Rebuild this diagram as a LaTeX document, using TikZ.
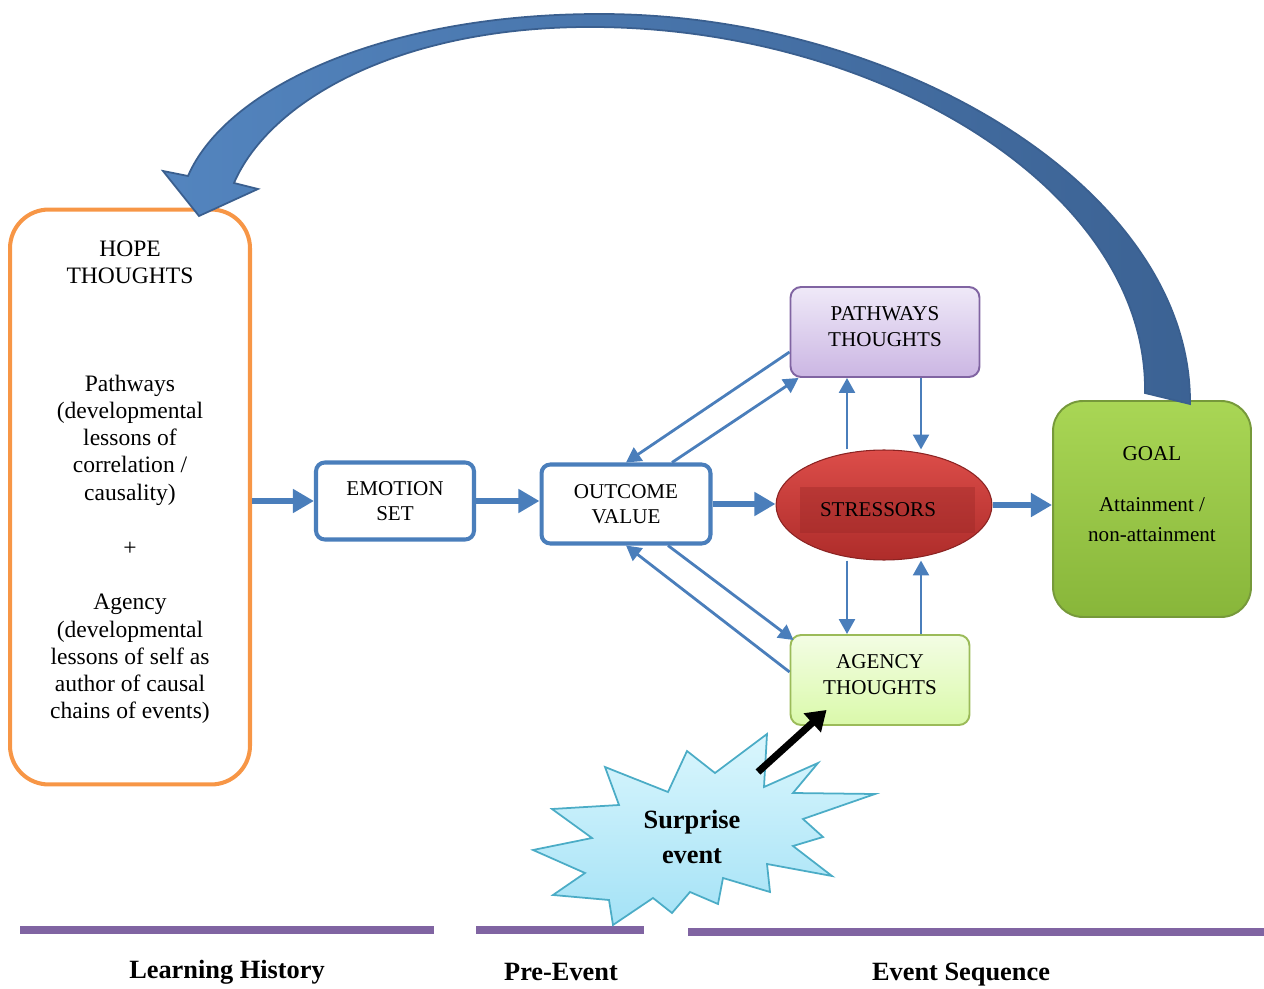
\documentclass[tikz,border=0pt]{standalone}
\usepackage{fontspec}
\setmainfont{Liberation Serif}
\usetikzlibrary{arrows.meta,shapes.geometric}
\definecolor{flowblue}{HTML}{4A7EBB}
\definecolor{flowdark}{HTML}{3A5F8F}
\definecolor{hopeorange}{HTML}{F79646}
\definecolor{timeline}{HTML}{8064A2}
\definecolor{pathtop}{HTML}{EFE9F8}
\definecolor{pathbot}{HTML}{CBB6E3}
\definecolor{agencytop}{HTML}{F3FDE4}
\definecolor{agencybot}{HTML}{DAF9AA}
\definecolor{agencyline}{HTML}{9BBB59}
\definecolor{goaltop}{HTML}{A9D655}
\definecolor{goalbot}{HTML}{88B63A}
\definecolor{goalline}{HTML}{76993A}
\definecolor{stresstop}{HTML}{DC4D49}
\definecolor{stressbot}{HTML}{AE2C2A}
\definecolor{bursttop}{HTML}{DAF6FD}
\definecolor{burstbot}{HTML}{A4E2F6}
\definecolor{burstline}{HTML}{4BACC6}
\begin{document}
\begin{tikzpicture}[x=0.02cm,y=-0.02cm,>=Triangle,
  stepbox/.style={draw=flowblue,line width=2.3pt,rounded corners=5pt,fill=white,align=center,font=\fontsize{12}{14}\selectfont},
  thoughtbox/.style={line width=1.1pt,rounded corners=6pt,align=center,font=\fontsize{12}{14.5}\selectfont},
  hopetext/.style={align=center,font=\fontsize{13.4}{15.5}\selectfont},
  bigarrow/.style={-{Triangle[length=12pt,width=13pt]},draw=flowblue,line width=3.4pt},
  thinarrow/.style={-{Triangle[length=8.5pt,width=9pt]},draw=flowblue,line width=1.6pt},
  phase/.style={font=\bfseries\fontsize{15}{18}\selectfont}]
\useasboundingbox (0,0) rectangle (1264,989);

% timeline
\draw[timeline,line width=4pt] (20,930) -- (434,930);
\draw[timeline,line width=4pt] (476,930) -- (644,930);
\draw[timeline,line width=4pt] (688,932) -- (1264,932);
\node[phase] (learning) at (227,972) {Learning History};
\node[phase] (preevent) at (561,972) {Pre-Event};
\node[phase] (sequence) at (961,975) {Event Sequence};

% hope thoughts
\node[draw=hopeorange,line width=2.3pt,rounded corners=22pt,minimum width=4.8cm,minimum height=11.5cm] (hope) at (130,497) {};
\node[hopetext] (hopetitle) at (130,262) {HOPE\\THOUGHTS};
\node[hopetext] (hopepath) at (130,440) {Pathways\\(developmental\\lessons of\\correlation /\\causality)};
\node[hopetext] (hopeplus) at (130,549) {+};
\node[hopetext] (hopeagency) at (130,659) {Agency\\(developmental\\lessons of self as\\author of causal\\chains of events)};

% boxes
\node[stepbox,minimum width=3.16cm,minimum height=1.54cm] (emotion) at (395,501) {EMOTION\\SET};
\node[stepbox,minimum width=3.38cm,minimum height=1.58cm] (outcome) at (626,504) {OUTCOME\\VALUE};
\node[ellipse,draw=stressbot!80!black,line width=0.6pt,top color=stresstop,bottom color=stressbot,minimum width=4.32cm,minimum height=2.2cm] (stress) at (884,505) {};
\fill[stressbot!85!black,opacity=0.35] (800,487) rectangle (975,533);
\node[font=\fontsize{12}{14}\selectfont] (stresstext) at (878,510) {STRESSORS};
\node[thoughtbox,draw=timeline,top color=pathtop,bottom color=pathbot,minimum width=3.78cm,minimum height=1.8cm] (pathways) at (885,332) {PATHWAYS\\THOUGHTS\\[-8pt]\mbox{}};
\node[thoughtbox,draw=agencyline,top color=agencytop,bottom color=agencybot,minimum width=3.58cm,minimum height=1.8cm] (agency) at (880,680) {AGENCY\\THOUGHTS\\[-8pt]\mbox{}};
\node[draw=goalline,line width=1.1pt,rounded corners=17pt,top color=goaltop,bottom color=goalbot,minimum width=3.96cm,minimum height=4.32cm] (goal) at (1152,509) {};
\node[align=center,font=\fontsize{12}{17}\selectfont] (goaltext) at (1152,494) {GOAL\\[12pt]Attainment /\\non-attainment};

% main flow
\draw[bigarrow] (hope.east |- emotion.west) -- (emotion.west);
\draw[bigarrow] (emotion.east) -- (emotion.east -| outcome.west);
\draw[bigarrow] (outcome.east) -- (outcome.east -| stress.west);
\draw[bigarrow] (stress.east) -- (stress.east -| goal.west);

% thought links
\coordinate (cl) at (847,0);
\coordinate (cr) at (921,0);
\draw[thinarrow] ([yshift=-0.4cm]pathways.west) -- (outcome.north);
\draw[thinarrow] ([xshift=0.92cm]outcome.north) -- ([xshift=0.18cm]pathways.south west);
\draw[thinarrow] (cl |- stress.north) -- (cl |- pathways.south);
\draw[thinarrow] (cr |- pathways.south) -- (cr |- stress.north);
\draw[thinarrow] (cl |- stress.south) -- (cl |- agency.north);
\draw[thinarrow] (cr |- agency.north) -- (cr |- stress.south);
\draw[thinarrow] ([xshift=0.84cm]outcome.south) -- ([xshift=0.08cm,yshift=-0.12cm]agency.north west);
\draw[thinarrow] ([yshift=0.16cm]agency.west) -- (outcome.south);

% surprise event
\draw[draw=burstline,line width=1pt,top color=bursttop,bottom color=burstbot]
  (605,767) -- (668,792) -- (687,751) -- (715,773) -- (767,734) -- (764,787)
  -- (818,763) -- (793,793) -- (875,794) -- (803,819) -- (823,837) -- (793,846)
  -- (832,876) -- (767,864) -- (770,892) -- (723,878) -- (718,904) -- (690,892)
  -- (672,913) -- (653,898) -- (613,925) -- (609,900) -- (553,895) -- (585,873)
  -- (533,850) -- (592,838) -- (552,809) -- (619,805) -- cycle;
\node[align=center,font=\bfseries\fontsize{15}{20}\selectfont] (surprise) at (692,837) {Surprise\\event};
\coordinate (hit) at (758,772);
\draw[-{Triangle[length=11pt,width=14pt]},line width=4pt] (hit) -- ([xshift=0.74cm,yshift=0.32cm]agency.south west);

% feedback to hope
\path[draw=flowdark,line width=1pt,left color=flowblue!95!white,right color=flowdark!90!flowblue]
  (1190,404) .. controls (1192,190) and (900,14) .. (600,14)
  .. controls (380,14) and (225,90) .. (188,176)
  -- (163,171) -- (199,216) -- (258,189) -- (234,183)
  .. controls (270,100) and (400,27) .. (590,27)
  .. controls (880,27) and (1148,190) .. (1145,393) -- cycle;
\end{tikzpicture}
\end{document}
